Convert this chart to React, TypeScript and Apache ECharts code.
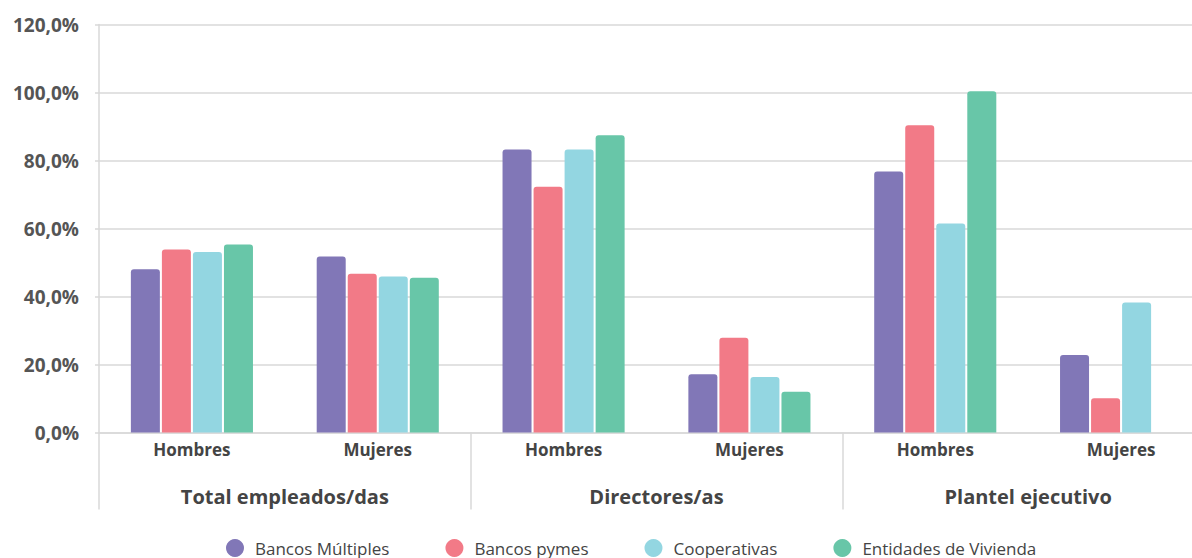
import React, { useEffect, useRef } from "react";
import * as echarts from "echarts";

const subCategories = ["Hombres", "Mujeres", "Hombres", "Mujeres", "Hombres", "Mujeres"];
const groups = ["Total empleados/das", "Directores/as", "Plantel ejecutivo"];
const seriesNames = ["Bancos Múltiples", "Bancos pymes", "Cooperativas", "Entidades de Vivienda"];
const bancosMultiples = [48.0, 51.8, 83.2, 17.1, 76.8, 22.8];
const bancosPymes = [53.8, 46.7, 72.3, 27.9, 90.4, 10.1];
const cooperativas = [53.1, 45.9, 83.2, 16.3, 61.5, 38.2];
const entidadesVivienda = [55.3, 45.5, 87.4, 12.0, 100.4, null];
const colors = ["#8177B7", "#F27A87", "#93D6E1", "#68C6A8"];

const FONT = "Open Sans";

export default function App() {
  const ref = useRef<HTMLDivElement>(null);
  useEffect(() => {
    if (!ref.current) return;
    const chart = echarts.init(ref.current, null, { renderer: "svg" });
    const values = [bancosMultiples, bancosPymes, cooperativas, entidadesVivienda];
    chart.setOption({
      animation: false,
      textStyle: { fontFamily: FONT },
      grid: { left: 99, width: 1115, top: 24.5, bottom: 125.5, outerBoundsMode: "none", containLabel: false },
      legend: {
        top: 539,
        left: 226,
        icon: "circle",
        itemWidth: 18,
        itemHeight: 18,
        itemGap: 56,
        padding: 0,
        textStyle: { fontFamily: FONT, fontSize: 17, lineHeight: 18, color: "#444", padding: [0, 0, 0, 6] },
        data: seriesNames,
      },
      xAxis: [
        {
          type: "category",
          data: subCategories,
          position: "bottom",
          axisLine: { show: true, lineStyle: { color: "#d9d9d9", width: 1.5 } },
          axisTick: { show: false },
          axisLabel: { fontFamily: FONT, fontSize: 17, fontWeight: "bold", color: "#444", margin: 8 },
        },
        {
          type: "category",
          data: groups,
          position: "bottom",
          axisLine: { show: false },
          axisTick: { show: true, length: 77, lineStyle: { color: "#d9d9d9", width: 1.5 } },
          axisLabel: { fontFamily: FONT, fontSize: 20, fontWeight: "bold", color: "#444", margin: 54 },
        },
      ],
      yAxis: {
        type: "value",
        min: 0,
        max: 120,
        interval: 20,
        axisLine: { show: true, lineStyle: { color: "#d9d9d9", width: 1.5 } },
        axisTick: { show: true, length: 4, lineStyle: { color: "#d9d9d9", width: 1.5 } },
        splitLine: { lineStyle: { color: "#d9d9d9", width: 1.5 } },
        axisLabel: {
          fontFamily: FONT,
          fontSize: 19,
          fontWeight: "bold",
          color: "#555",
          margin: 20,
          formatter: (v: number) => v.toFixed(1).replace(".", ",") + "%",
        },
      },
      series: seriesNames.map((name, i) => ({
        name,
        type: "bar",
        xAxisIndex: 0,
        data: values[i],
        barWidth: 29,
        barGap: "7%",
        itemStyle: { color: colors[i], borderRadius: [3, 3, 0, 0] },
      })),
    });
    return () => chart.dispose();
  }, []);
  return (
    <div
      ref={ref}
      style={{ position: "absolute", left: 0, top: 0, width: 1192, height: 558, background: "#fff" }}
    />
  );
}
